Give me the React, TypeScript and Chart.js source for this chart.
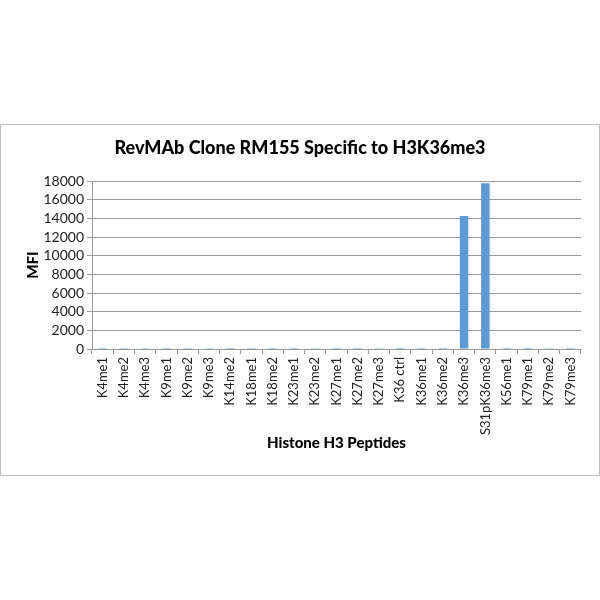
import React, { useEffect, useRef } from "react";
import { Chart, registerables } from "chart.js";

Chart.register(...registerables);

const peptides = [
  "K4me1", "K4me2", "K4me3", "K9me1", "K9me2", "K9me3", "K14me2", "K18me1",
  "K18me2", "K23me1", "K23me2", "K27me1", "K27me2", "K27me3", "K36 ctrl",
  "K36me1", "K36me2", "K36me3", "S31pK36me3", "K56me1", "K79me1", "K79me2", "K79me3",
];
const mfi = [
  110, 100, 90, 110, 100, 90, 110, 100,
  100, 110, 90, 100, 100, 90, 110,
  100, 110, 14250, 17750, 100, 110, 90, 100,
];
const yMax = 18000;
const yStep = 2000;

const FONT = "Lato, 'Open Sans', sans-serif";

export default function App() {
  const canvasRef = useRef<HTMLCanvasElement>(null);

  useEffect(() => {
    if (!canvasRef.current) return;
    const chart = new Chart(canvasRef.current, {
      type: "bar",
      data: {
        labels: peptides,
        datasets: [
          {
            label: "MFI",
            data: mfi,
            backgroundColor: "#5B9BD5",
            borderWidth: 0,
            categoryPercentage: 1,
            barPercentage: 0.4,
          },
        ],
      },
      options: {
        animation: false,
        responsive: true,
        maintainAspectRatio: false,
        layout: { padding: 0 },
        plugins: {
          legend: { display: false },
          tooltip: { enabled: false },
          title: {
            display: true,
            text: "RevMAb Clone RM155 Specific to H3K36me3",
            color: "#000",
            font: { family: FONT, size: 18, weight: "900", lineHeight: 1.2 },
            padding: { top: 12, bottom: 22.4 },
          },
        },
        scales: {
          x: {
            grid: {
              offset: true,
              drawOnChartArea: false,
              drawTicks: true,
              tickLength: 5,
              color: "#999",
            },
            border: { color: "#999" },
            ticks: {
              minRotation: 90,
              maxRotation: 90,
              autoSkip: false,
              padding: 3,
              color: "#222",
              font: { family: FONT, size: 13 },
            },
            title: {
              display: true,
              text: "Histone H3 Peptides",
              color: "#000",
              font: { family: FONT, size: 15, weight: "900", lineHeight: 1.2 },
              padding: { top: 0, bottom: 23 },
            },
            afterFit: (scale: any) => {
              scale.height = 126;
            },
          },
          y: {
            min: 0,
            max: yMax,
            grid: {
              color: "#999",
              tickLength: 5,
            },
            border: { color: "#999" },
            ticks: {
              stepSize: yStep,
              autoSkip: false,
              padding: 3,
              color: "#222",
              font: { family: FONT, size: 14 },
              callback: (value: any) => String(value),
            },
            title: {
              display: true,
              text: "MFI",
              color: "#000",
              font: { family: FONT, size: 15, weight: "900", lineHeight: 1.2 },
              padding: { top: 23, bottom: 0 },
            },
            afterFit: (scale: any) => {
              scale.width = 91;
            },
          },
          right: {
            type: "linear",
            position: "right",
            display: true,
            grid: { display: false, drawTicks: false },
            border: { display: false },
            ticks: { display: false },
            afterFit: (scale: any) => {
              scale.width = 18;
            },
          },
        },
      } as any,
    });
    return () => {
      chart.destroy();
    };
  }, []);

  return (
    <div style={{ position: "fixed", left: 0, top: 0, width: 600, height: 600, background: "#fff" }}>
      <div
        style={{
          position: "absolute",
          left: 0,
          top: 124,
          width: 600,
          height: 352,
          boxSizing: "border-box",
          border: "1px solid #bdbdbd",
        }}
      >
        <div style={{ position: "relative", width: 598, height: 350 }}>
          <canvas ref={canvasRef} />
        </div>
      </div>
    </div>
  );
}
